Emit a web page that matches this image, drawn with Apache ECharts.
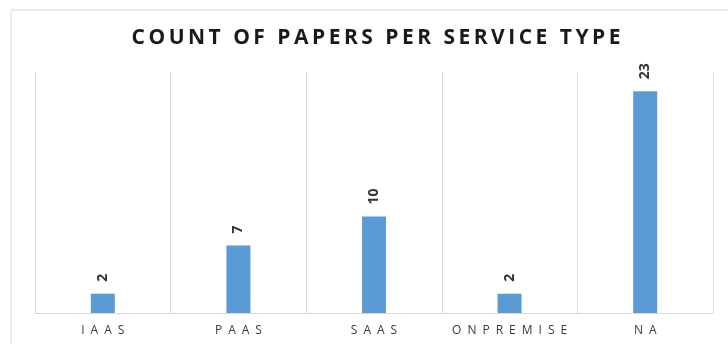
<!DOCTYPE html>
<html>
<head>
<meta charset="utf-8">
<script src="https://cdn.jsdelivr.net/npm/echarts@6/dist/echarts.min.js"></script>
<style>
  html, body { margin: 0; padding: 0; background: #fff; }
  #chart { width: 728px; height: 344px; }
</style>
</head>
<body>
<div id="chart"></div>
<script>
// data
var serviceTypes = ['IAAS', 'PAAS', 'SAAS', 'ONPREMISE', 'NA'];
var paperCounts = [2, 7, 10, 2, 23];
var chartTitle = 'COUNT OF PAPERS PER SERVICE TYPE';

// letter spaced text, the source is drawn with wide tracking
var spaced = function (s, gap) {
    return s.split('').join(gap);
};

var myChart = echarts.init(document.getElementById('chart'));

var option = {
    backgroundColor: '#ffffff',
    animation: false,
    title: {
        text: spaced(chartTitle, '\u2009'),
        left: 371,
        textAlign: 'center',
        top: 23,
        textStyle: {
            fontFamily: 'Open Sans',
            fontWeight: 'bold',
            fontSize: 21,
            color: '#1a1a1a'
        }
    },
    graphic: [{
        type: 'rect',
        shape: { x: 11, y: 10, width: 800, height: 400 },
        style: { fill: 'none', stroke: '#d9d9d9', lineWidth: 1 },
        silent: true
    }],
    grid: {
        left: 35,
        right: 15,
        top: 72,
        bottom: 31
    },
    xAxis: {
        type: 'category',
        data: serviceTypes,
        axisLine: { lineStyle: { color: '#d9d9d9' } },
        axisTick: { show: false },
        splitLine: { show: true, interval: 0, lineStyle: { color: '#d9d9d9' } },
        axisLabel: {
            interval: 0,
            hideOverlap: false,
            margin: 12,
            fontFamily: 'Open Sans',
            fontSize: 12,
            color: '#3a3a3a',
            formatter: function (v) { return spaced(v, '\u2002'); }
        }
    },
    yAxis: {
        type: 'value',
        min: 0,
        max: 25,
        show: false
    },
    series: [{
        type: 'bar',
        data: paperCounts,
        barWidth: 24,
        itemStyle: { color: '#5b9bd5' },
        label: {
            show: true,
            position: 'top',
            rotate: 90,
            align: 'left',
            verticalAlign: 'middle',
            distance: 12,
            fontFamily: 'Open Sans',
            fontWeight: 'bold',
            fontSize: 14,
            color: '#333333'
        }
    }]
};

myChart.setOption(option);
</script>
</body>
</html>
